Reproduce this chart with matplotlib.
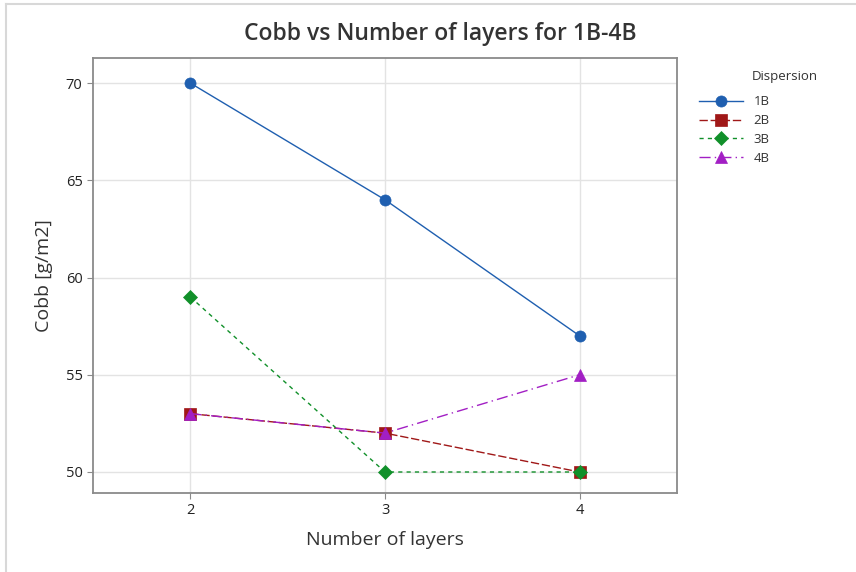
import matplotlib.pyplot as plt
from matplotlib.lines import Line2D

# data
layers = [2, 3, 4]
cobb_1b = [70, 64, 57]
cobb_2b = [53, 52, 50]
cobb_3b = [59, 50, 50]
cobb_4b = [53, 52, 55]
series_names = ["1B", "2B", "3B", "4B"]

plt.rcParams['font.family'] = ['Open Sans', 'DejaVu Sans']

fig = plt.figure(figsize=(8.56, 5.72), dpi=100)
ax = fig.add_axes([93/856, 1 - 493/572, (677-93)/856, (493-58)/572])

# thin grey frame on left and top of the figure
fig.add_artist(Line2D([6/856, 6/856], [0, 1 - 4/572], color="#d8d8d8", lw=1.5,
                      transform=fig.transFigure))
fig.add_artist(Line2D([6/856, 1], [1 - 4/572, 1 - 4/572], color="#d8d8d8", lw=1.5,
                      transform=fig.transFigure))

styles = [
    dict(color="#1f5fb0", marker="o", ls="-", ms=8),
    dict(color="#a01818", marker="s", ls=(0, (6, 2)), ms=8),
    dict(color="#11902a", marker="D", ls=(0, (3, 3)), ms=7),
    dict(color="#a21fc4", marker="^", ls=(0, (8, 3, 1, 3)), ms=8),
]
data = [cobb_1b, cobb_2b, cobb_3b, cobb_4b]
for name, vals, st in zip(series_names, data, styles):
    ax.plot(layers, vals, label=name, lw=1.0, color=st["color"], ls=st["ls"],
            marker=st["marker"], markersize=st["ms"], markeredgewidth=0.5)

ax.set_xlim(1.5, 4.5)
ax.set_ylim(48.92, 71.29)
ax.set_xticks(layers)
ax.set_yticks([50, 55, 60, 65, 70])
ax.grid(True, color="#e3e3e3", lw=1)
ax.set_axisbelow(True)
for s in ax.spines.values():
    s.set_color("#8a8a8a")
    s.set_linewidth(1.3)
ax.tick_params(colors="#8a8a8a", labelcolor="#222222", labelsize=10.5, length=4)

ax.set_xlabel("Number of layers", fontsize=14, color="#333333", labelpad=9)
ax.set_ylabel("Cobb [g/m2]", fontsize=14, color="#333333", labelpad=9)
fig.text(440/856, 1 - 34/572, "Cobb vs Number of layers for 1B-4B",
         ha="center", va="center", fontsize=16.5, fontweight="semibold", color="#333333")

leg = ax.legend(loc="upper left", bbox_to_anchor=(690/856, 1 - 86/572),
                bbox_transform=fig.transFigure,
                frameon=False, fontsize=9.5, handlelength=3.3,
                labelspacing=0.45, borderpad=0.2)
for t in leg.get_texts():
    t.set_color("#333333")
fig.text(752/856, 1 - 76/572, "Dispersion", ha="left", va="center",
         fontsize=9.5, color="#333333")

fig.savefig("out.png", dpi=100)
